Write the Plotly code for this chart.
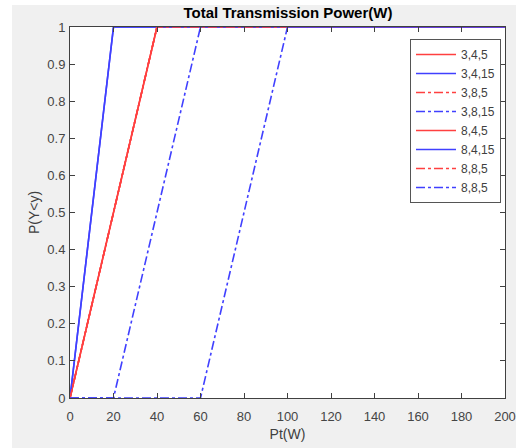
import plotly.graph_objects as go

# Series data (Pt in W, CDF P(Y<y))
labels = ["3,4,5", "3,4,15", "3,8,5", "3,8,15", "8,4,5", "8,4,15", "8,8,5", "8,8,5"]
x_3_4_5 = [0, 40, 200]
y_3_4_5 = [0, 1, 1]
x_3_4_15 = [0, 20, 200]
y_3_4_15 = [0, 1, 1]
x_3_8_5 = [0, 40, 200]
y_3_8_5 = [0, 1, 1]
x_3_8_15 = [0, 20, 60, 200]
y_3_8_15 = [0, 0, 1, 1]
x_8_4_5 = [0, 40, 200]
y_8_4_5 = [0, 1, 1]
x_8_4_15 = [0, 20, 200]
y_8_4_15 = [0, 1, 1]
x_8_8_5 = [0, 40, 200]
y_8_8_5 = [0, 1, 1]
x_8_8_5b = [0, 60, 100, 200]
y_8_8_5b = [0, 0, 1, 1]

xs = [x_3_4_5, x_3_4_15, x_3_8_5, x_3_8_15, x_8_4_5, x_8_4_15, x_8_8_5, x_8_8_5b]
ys = [y_3_4_5, y_3_4_15, y_3_8_5, y_3_8_15, y_8_4_5, y_8_4_15, y_8_8_5, y_8_8_5b]
colors = ["#ff4040", "#4040ff", "#ff4040", "#4040ff", "#ff4040", "#4040ff", "#ff4040", "#4040ff"]
dashes = ["solid", "solid", "dashdot", "dashdot", "solid", "solid", "dashdot", "dashdot"]

x_ticks = list(range(0, 201, 20))
y_ticks = [0, 0.1, 0.2, 0.3, 0.4, 0.5, 0.6, 0.7, 0.8, 0.9, 1]
y_ticktext = ["0", "0.1", "0.2", "0.3", "0.4", "0.5", "0.6", "0.7", "0.8", "0.9", "1"]

fig = go.Figure()
for lab, x, y, c, d in zip(labels, xs, ys, colors, dashes):
    fig.add_trace(go.Scatter(x=x, y=y, mode="lines", name=lab,
                             line=dict(color=c, width=1.6, dash=d)))

W, H = 526, 448
L, R, T, B = 70, 21, 27, 50
pw, ph = W - L - R, H - T - B

def px(xp):
    return (xp - L) / pw

def py(yp):
    return (H - B - yp) / ph

axis_common = dict(
    showgrid=False, zeroline=False, showline=True, linecolor="#404040", linewidth=1,
    mirror="ticks", ticks="inside", ticklen=5, tickcolor="#404040", automargin=False,
    tickfont=dict(family="Liberation Sans, Arial", size=13, color="#454545"),
)

fig.update_layout(
    width=W, height=H,
    margin=dict(l=L, r=R, t=T, b=B, autoexpand=False),
    paper_bgcolor="#f0f0f0",
    plot_bgcolor="white",
    title=dict(text="<b>Total Transmission Power(W)</b>", x=(288 / W), xanchor="center",
               y=1 - 13 / H, yanchor="middle", automargin=False,
               font=dict(family="Liberation Sans, Arial", size=15, color="black")),
    xaxis=dict(range=[0, 200], tickvals=x_ticks, ticklabelstandoff=6,
               title=dict(text="Pt(W)", standoff=6,
                          font=dict(family="Liberation Sans, Arial", size=14, color="#404040")),
               **axis_common),
    yaxis=dict(range=[0, 1], tickvals=y_ticks, ticktext=y_ticktext, ticklabelstandoff=1,
               title=dict(text="P(Y<y)", standoff=4,
                          font=dict(family="Liberation Sans, Arial", size=14, color="#404040")),
               **axis_common),
    legend=dict(x=px(410), y=py(39), xanchor="left", yanchor="top",
                bgcolor="white", bordercolor="#555555", borderwidth=1,
                itemwidth=40,
                font=dict(family="Liberation Sans, Arial", size=12, color="#404040"),
                tracegroupgap=0),
    showlegend=True,
    shapes=[
        dict(type="rect", xref="paper", yref="paper", x0=px(0), x1=px(12), y0=py(H), y1=py(0),
             fillcolor="white", line=dict(width=0), layer="above"),
        dict(type="rect", xref="paper", yref="paper", x0=px(516), x1=px(W), y0=py(H), y1=py(0),
             fillcolor="white", line=dict(width=0), layer="above"),
        dict(type="rect", xref="paper", yref="paper", x0=px(0), x1=px(W), y0=py(5), y1=py(0),
             fillcolor="white", line=dict(width=0), layer="above"),
    ],
)

fig.write_html("out.html", config={"displayModeBar": False},
               post_script="document.body.style.margin='0';document.body.style.padding='0';")
